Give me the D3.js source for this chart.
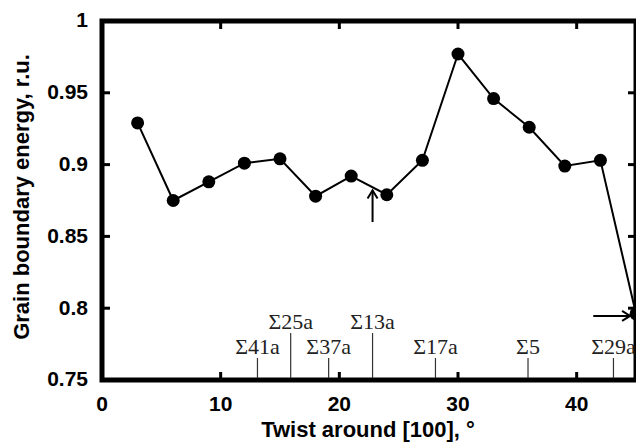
<!DOCTYPE html>
<html>
<head>
<meta charset="utf-8">
<script src="https://cdn.jsdelivr.net/npm/d3@7"></script>
<style>
  body { margin: 0; background: #fff; }
  svg { display: block; }
  .tick-label { font-family: Arial, "Liberation Sans", sans-serif; font-weight: bold; font-size: 21px; fill: #000; }
  .title { font-family: Arial, "Liberation Sans", sans-serif; font-weight: bold; font-size: 22px; fill: #000; }
  .sigma { font-family: "Liberation Serif", "DejaVu Serif", serif; font-size: 22px; fill: #222; }
</style>
</head>
<body>
<svg id="chart" width="636" height="443"></svg>
<script>
// twist angle (deg) and energy
const twist  = [3, 6, 9, 12, 15, 18, 21, 24, 27, 30, 33, 36, 39, 42, 45];
const energy = [0.929, 0.875, 0.888, 0.901, 0.904, 0.878, 0.892, 0.879, 0.903, 0.977, 0.946, 0.926, 0.899, 0.903, 0.796];

// special (CSL) misorientations marked along the x axis
const sigmaNames  = ["Σ41a", "Σ25a", "Σ37a", "Σ13a", "Σ17a", "Σ5", "Σ29a"];
const sigmaAngles = [13.1, 15.9, 19.1, 22.8, 28.1, 35.9, 43.1];
const sigmaTall   = [false, true, false, true, false, false, false];

const xTicks = [0, 10, 20, 30, 40];
const yTicks = [0.75, 0.8, 0.85, 0.9, 0.95, 1];

const W = 636, H = 443;
const margin = {top: 21, right: 0, bottom: 63, left: 102};

const svg = d3.select("#chart");

const x = d3.scaleLinear().domain([0, 45]).range([margin.left, W - margin.right]);
const y = d3.scaleLinear().domain([0.75, 1]).range([H - margin.bottom, margin.top]);

const x0 = x(0), x1 = x(45), y0 = y(0.75), y1 = y(1);
const tickLen = 8;

// frame
svg.append("rect")
  .attr("x", x0).attr("y", y1)
  .attr("width", x1 - x0).attr("height", y0 - y1)
  .attr("fill", "none").attr("stroke", "#000").attr("stroke-width", 5);

// inward ticks on all four sides
const ticks = svg.append("g").attr("stroke", "#000").attr("stroke-width", 3);
xTicks.filter(d => d > 0).forEach(d => {
  ticks.append("line").attr("x1", x(d)).attr("x2", x(d)).attr("y1", y0).attr("y2", y0 - tickLen);
  ticks.append("line").attr("x1", x(d)).attr("x2", x(d)).attr("y1", y1).attr("y2", y1 + tickLen);
});
yTicks.filter(d => d > 0.75 && d < 1).forEach(d => {
  ticks.append("line").attr("x1", x0).attr("x2", x0 + tickLen).attr("y1", y(d)).attr("y2", y(d));
  ticks.append("line").attr("x1", x1).attr("x2", x1 - tickLen).attr("y1", y(d)).attr("y2", y(d));
});

// tick labels
svg.append("g").selectAll("text").data(xTicks).join("text")
  .attr("class", "tick-label")
  .attr("x", d => x(d)).attr("y", 411)
  .attr("text-anchor", "middle")
  .text(d => d);

svg.append("g").selectAll("text").data(yTicks).join("text")
  .attr("class", "tick-label")
  .attr("x", 88).attr("y", d => y(d)).attr("dy", "0.3em")
  .attr("text-anchor", "end")
  .text(d => d);

// axis titles
svg.append("text")
  .attr("class", "title")
  .attr("x", 368).attr("y", 437)
  .attr("text-anchor", "middle")
  .text("Twist around [100], °");

svg.append("text")
  .attr("class", "title")
  .attr("transform", "translate(29,197) rotate(-90)")
  .attr("text-anchor", "middle")
  .text("Grain boundary energy, r.u.");

// sigma markers
const sig = svg.append("g");
sigmaAngles.forEach((a, i) => {
  const top = sigmaTall[i] ? 333 : 358;
  sig.append("line")
    .attr("x1", x(a)).attr("x2", x(a))
    .attr("y1", y0 - 2).attr("y2", top)
    .attr("stroke", "#333").attr("stroke-width", 1.2);
  sig.append("text")
    .attr("class", "sigma")
    .attr("x", x(a)).attr("y", top - 4)
    .attr("text-anchor", "middle")
    .text(sigmaNames[i]);
});

// data line and markers
const line = d3.line().x((d, i) => x(twist[i])).y(d => y(d));
svg.append("path")
  .datum(energy)
  .attr("d", line)
  .attr("fill", "none").attr("stroke", "#000").attr("stroke-width", 2);

svg.append("g").selectAll("circle").data(energy).join("circle")
  .attr("cx", (d, i) => x(twist[i])).attr("cy", d => y(d))
  .attr("r", 6.5).attr("fill", "#000");

// arrows
const arrows = svg.append("g").attr("stroke", "#000").attr("stroke-width", 2).attr("fill", "none");
const ax = x(22.8), ayTail = y(0.86), ayHead = y(0.882);
arrows.append("line").attr("x1", ax).attr("x2", ax).attr("y1", ayTail).attr("y2", ayHead);
arrows.append("path").attr("d", `M${ax - 5},${ayHead + 8} L${ax},${ayHead} L${ax + 5},${ayHead + 8}`);

const ry = y(0.7946), rxTail = x(41.4), rxHead = x(44.5);
arrows.append("line").attr("x1", rxTail).attr("x2", rxHead).attr("y1", ry).attr("y2", ry);
arrows.append("path").attr("d", `M${rxHead - 8},${ry - 5} L${rxHead},${ry} L${rxHead - 8},${ry + 5}`);
</script>
</body>
</html>
